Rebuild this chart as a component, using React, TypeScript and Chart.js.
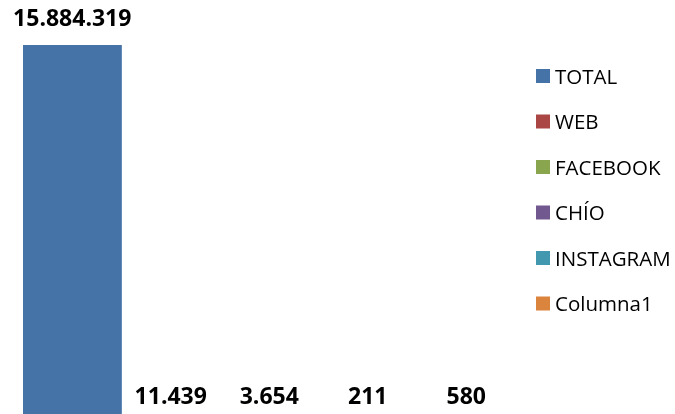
import { useEffect, useRef } from "react";
import { Chart, registerables } from "chart.js";

Chart.register(...registerables);

const categories = [""];
const seriesNames = ["TOTAL", "WEB", "FACEBOOK", "CHÍO", "INSTAGRAM", "Columna1"];
const seriesValues: (number | null)[] = [15884319, 11439, 3654, 211, 580, null];
const seriesColors = ["#4572A7", "#AA4643", "#89A54E", "#71588F", "#4198AF", "#DB843D"];

function fmt(v: number): string {
  return String(v).replace(/\B(?=(\d{3})+(?!\d))/g, ".");
}

const dataLabelPlugin = {
  id: "dataLabelPlugin",
  afterDatasetsDraw(chart: any) {
    const ctx = chart.ctx;
    ctx.save();
    ctx.font = "bold 23px 'Open Sans'";
    ctx.fillStyle = "#000000";
    ctx.textAlign = "center";
    ctx.textBaseline = "alphabetic";
    chart.data.datasets.forEach((ds: any, i: number) => {
      const v = ds.data[0];
      if (v === null || v === undefined) return;
      const el = chart.getDatasetMeta(i).data[0];
      if (!el) return;
      ctx.fillText(fmt(v), el.x, el.y - 19);
    });
    ctx.restore();
  },
};

const sideLegendPlugin = {
  id: "sideLegendPlugin",
  afterDraw(chart: any) {
    const ctx = chart.ctx;
    ctx.save();
    ctx.font = "20.5px 'Open Sans'";
    ctx.textAlign = "left";
    ctx.textBaseline = "alphabetic";
    chart.data.datasets.forEach((ds: any, i: number) => {
      const cy = 76 + i * 45.5;
      ctx.fillStyle = ds.backgroundColor;
      ctx.fillRect(536, cy - 7, 14, 14);
      ctx.fillStyle = "#000000";
      ctx.fillText(ds.label, 555, cy + 7.5);
    });
    ctx.restore();
  },
};

export default function App() {
  const canvasRef = useRef<HTMLCanvasElement | null>(null);

  useEffect(() => {
    document.body.style.margin = "0";
    const canvas = canvasRef.current;
    if (!canvas) return;
    const maxVal = Math.max(...(seriesValues.filter((v) => v !== null) as number[]));
    const chart = new Chart(canvas, {
      type: "bar",
      data: {
        labels: categories,
        datasets: seriesNames.map((name, i) => ({
          label: name,
          data: [seriesValues[i]],
          backgroundColor: seriesColors[i],
          borderWidth: 0,
          barPercentage: 1,
          categoryPercentage: 1,
        })),
      },
      options: {
        animation: false,
        responsive: true,
        maintainAspectRatio: false,
        layout: { padding: { top: 45, bottom: 9, left: 23, right: 61 } },
        plugins: {
          legend: { display: false },
          tooltip: { enabled: false },
        },
        scales: {
          x: { display: false },
          y: { display: false, min: 0, max: maxVal },
        },
      },
      plugins: [dataLabelPlugin, sideLegendPlugin],
    });
    return () => chart.destroy();
  }, []);

  return (
    <div style={{ position: "absolute", left: 0, top: 0, width: 675, height: 414, overflow: "hidden", background: "#ffffff" }}>
      <div style={{ position: "relative", width: 675, height: 432 }}>
        <canvas ref={canvasRef} />
      </div>
    </div>
  );
}
